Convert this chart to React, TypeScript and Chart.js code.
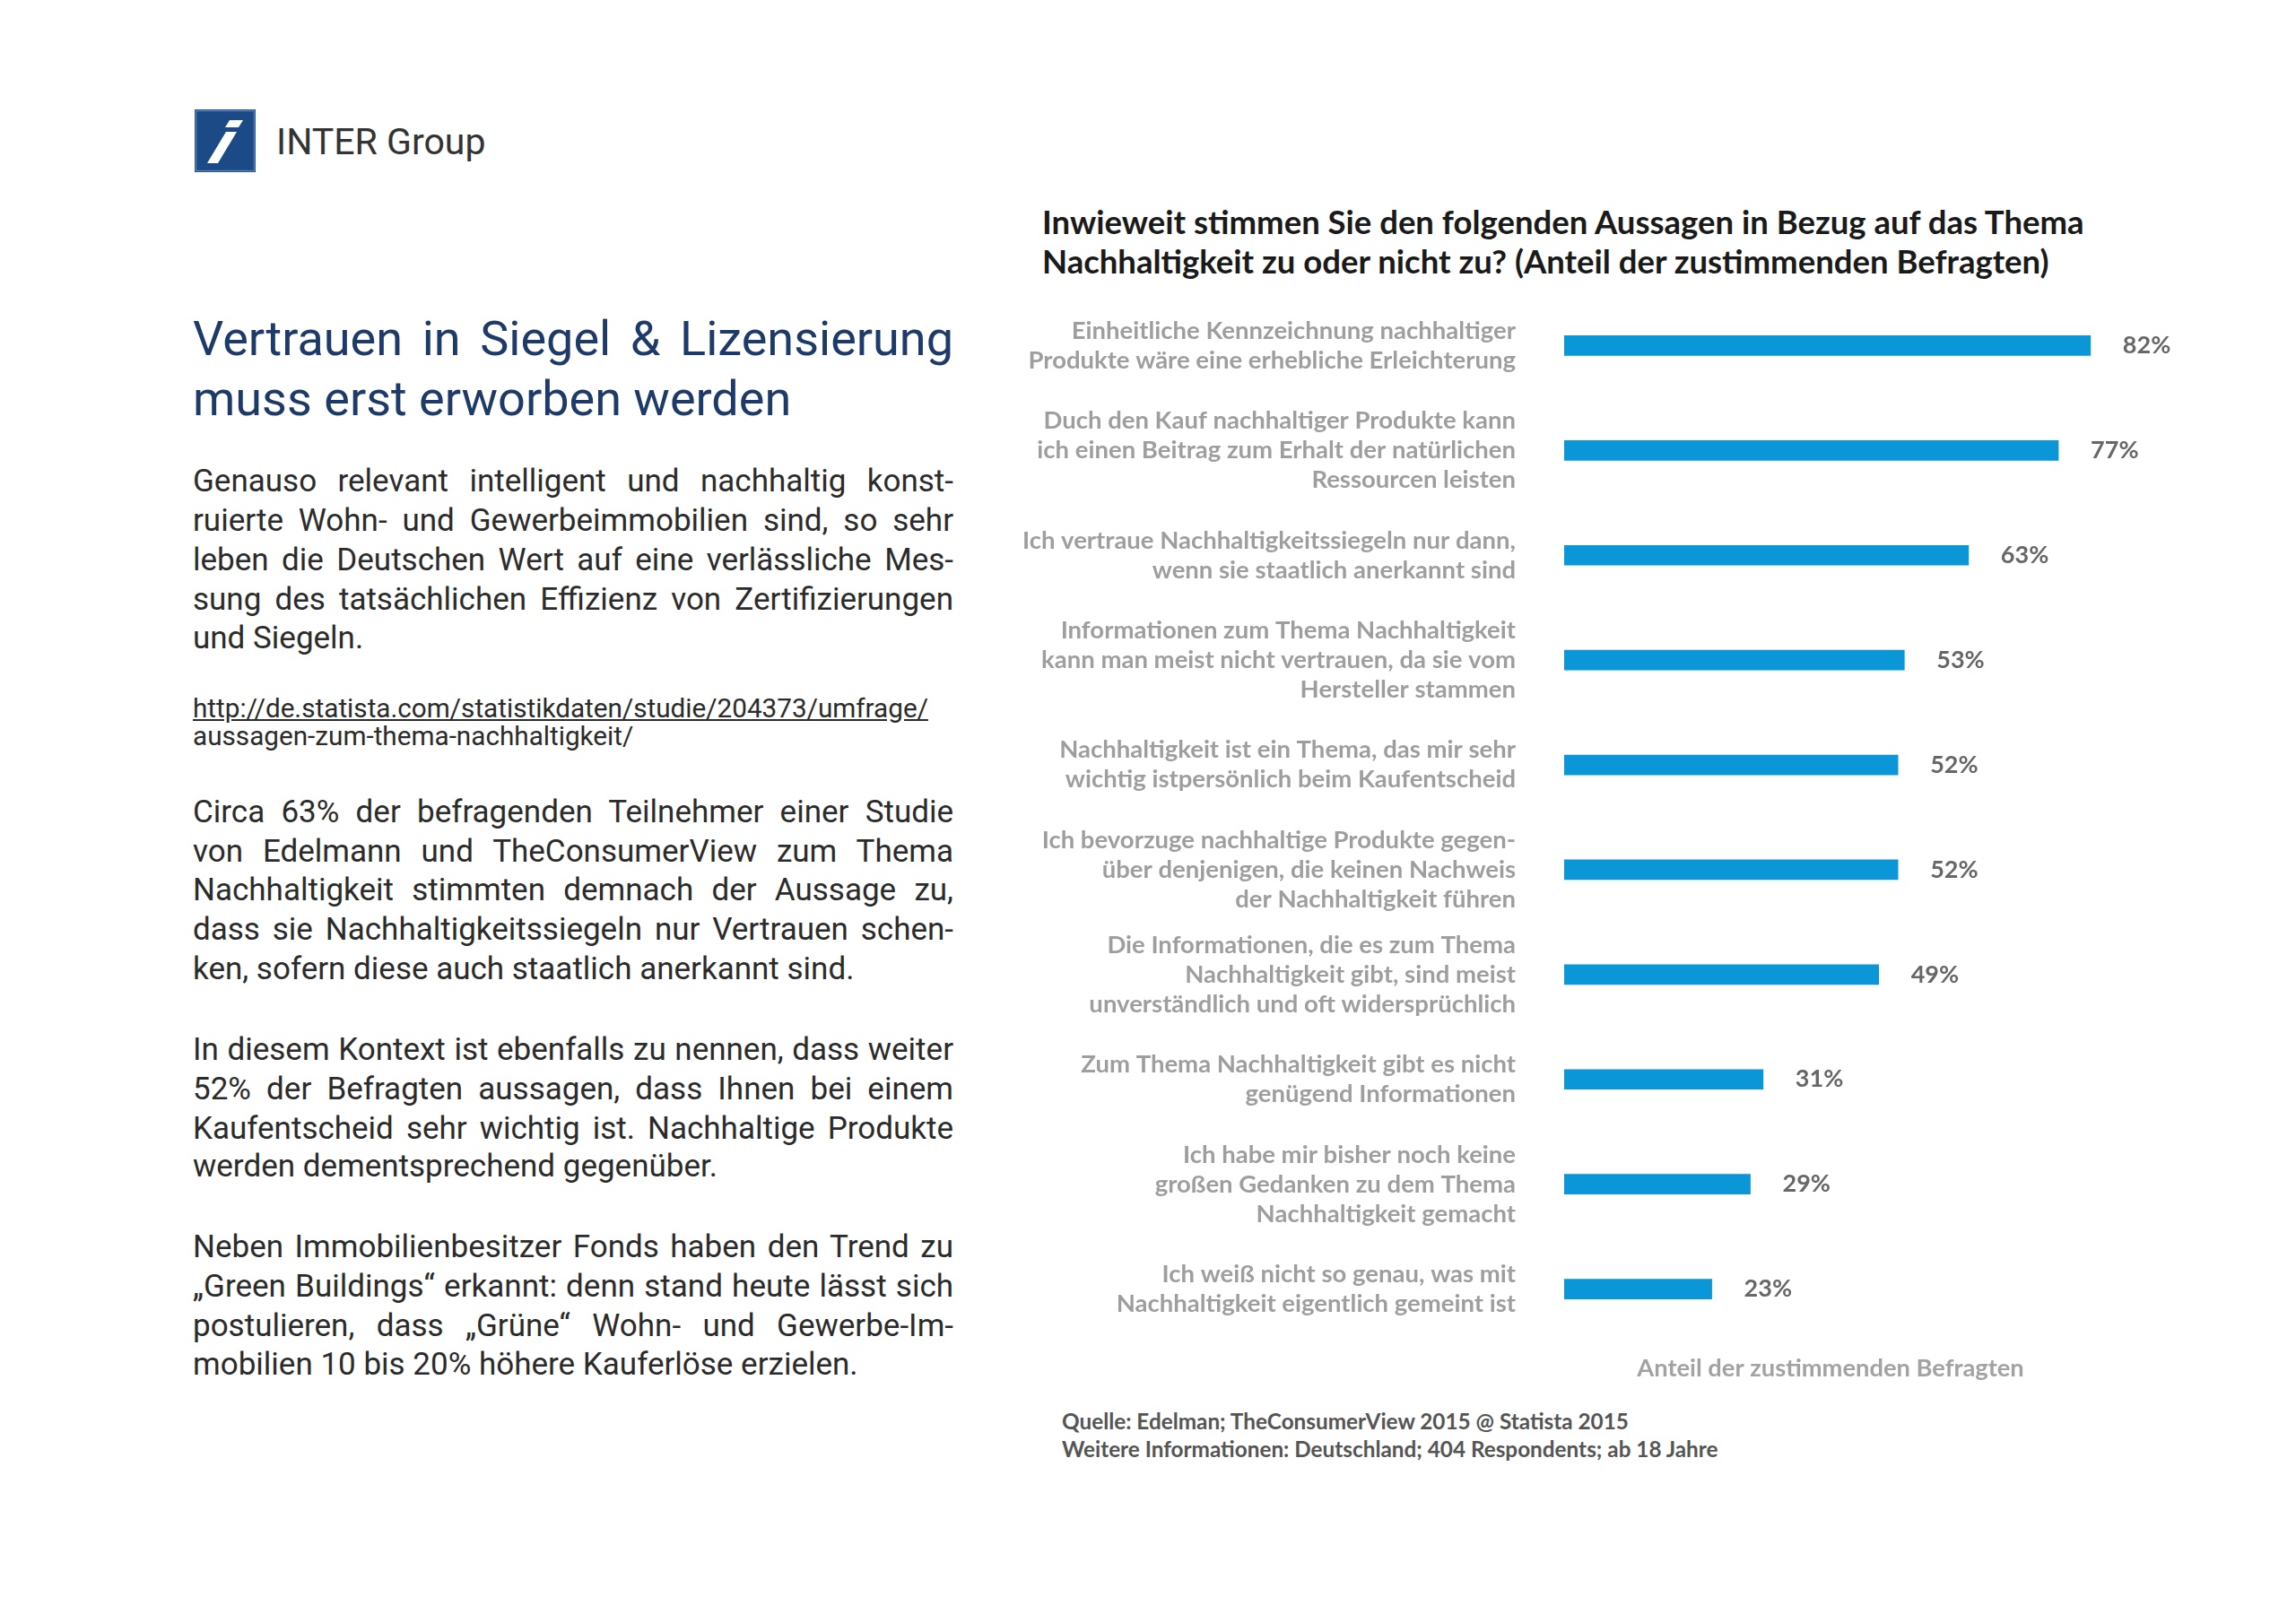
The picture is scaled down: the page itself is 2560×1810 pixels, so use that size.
import React, { useEffect, useRef } from "react";
import { Chart, registerables } from "chart.js";

Chart.register(...registerables);

// ---------- chart data ----------
const categories: string[][] = [
  ["Einheitliche Kennzeichnung nachhaltiger", "Produkte wäre eine erhebliche Erleichterung"],
  ["Duch den Kauf nachhaltiger Produkte kann", "ich einen Beitrag zum Erhalt der natürlichen", "Ressourcen leisten"],
  ["Ich vertraue Nachhaltigkeitssiegeln nur dann,", "wenn sie staatlich anerkannt sind"],
  ["Informationen zum Thema Nachhaltigkeit", "kann man meist nicht vertrauen, da sie vom", "Hersteller stammen"],
  ["Nachhaltigkeit ist ein Thema, das mir sehr", "wichtig istpersönlich beim Kaufentscheid"],
  ["Ich bevorzuge nachhaltige Produkte gegen-", "über denjenigen, die keinen Nachweis", "der Nachhaltigkeit führen"],
  ["Die Informationen, die es zum Thema", "Nachhaltigkeit gibt, sind meist", "unverständlich und oft widersprüchlich"],
  ["Zum Thema Nachhaltigkeit gibt es nicht", "genügend Informationen"],
  ["Ich habe mir bisher noch keine", "großen Gedanken zu dem Thema", "Nachhaltigkeit gemacht"],
  ["Ich weiß nicht so genau, was mit", "Nachhaltigkeit eigentlich gemeint ist"],
];
const values: number[] = [82, 77, 63, 53, 52, 52, 49, 31, 29, 23];
const xMin = 0;
const xMax = 83;
const chartTitle: string[] = [
  "Inwieweit stimmen Sie den folgenden Aussagen in Bezug auf das Thema",
  "Nachhaltigkeit zu oder nicht zu? (Anteil der zustimmenden Befragten)",
];
const axisTitle = "Anteil der zustimmenden Befragten";
const sourceLines: string[] = [
  "Quelle: Edelman; TheConsumerView 2015 @ Statista 2015",
  "Weitere Informationen: Deutschland; 404 Respondents; ab 18 Jahre",
];

// ---------- page text ----------
const brand = "INTER Group";
const headingLines: string[] = ["Vertrauen in Siegel & Lizensierung", "muss erst erworben werden"];
const para1: string[] = [
  "Genauso relevant intelligent und nachhaltig konst-",
  "ruierte Wohn- und Gewerbeimmobilien sind, so sehr",
  "leben die Deutschen Wert auf eine verlässliche Mes-",
  "sung des tatsächlichen Effizienz von Zertifizierungen",
  "und Siegeln.",
];
const urlLines: string[] = [
  "http://de.statista.com/statistikdaten/studie/204373/umfrage/",
  "aussagen-zum-thema-nachhaltigkeit/",
];
const para2: string[] = [
  "Circa 63% der befragenden Teilnehmer einer Studie",
  "von Edelmann und TheConsumerView zum Thema",
  "Nachhaltigkeit stimmten demnach der Aussage zu,",
  "dass sie Nachhaltigkeitssiegeln nur Vertrauen schen-",
  "ken, sofern diese auch staatlich anerkannt sind.",
];
const para3: string[] = [
  "In diesem Kontext ist ebenfalls zu nennen, dass weiter",
  "52% der Befragten aussagen, dass Ihnen bei einem",
  "Kaufentscheid sehr wichtig ist. Nachhaltige Produkte",
  "werden dementsprechend gegenüber.",
];
const para4: string[] = [
  "Neben Immobilienbesitzer Fonds haben den Trend zu",
  "„Green Buildings“ erkannt: denn stand heute lässt sich",
  "postulieren, dass „Grüne“ Wohn- und Gewerbe-Im-",
  "mobilien 10 bis 20% höhere Kauferlöse erzielen.",
];

const BAR_COLOR = "#0b96d8";

function BarChart() {
  const ref = useRef<HTMLCanvasElement | null>(null);
  useEffect(() => {
    if (!ref.current) return;
    const valueLabels = {
      id: "valueLabels",
      afterDatasetsDraw(chart: any) {
        const { ctx } = chart;
        const meta = chart.getDatasetMeta(0);
        ctx.save();
        ctx.font = "bold 27px Lato";
        ctx.fillStyle = "#676767";
        ctx.textAlign = "left";
        ctx.textBaseline = "middle";
        meta.data.forEach((bar: any, i: number) => {
          ctx.fillText(values[i] + "%", bar.x + 36, bar.y);
        });
        ctx.restore();
      },
    };
    const chart = new Chart(ref.current, {
      type: "bar",
      data: {
        labels: categories as any,
        datasets: [
          {
            data: values,
            backgroundColor: BAR_COLOR,
            borderWidth: 0,
            barThickness: 22,
          },
        ],
      },
      options: {
        indexAxis: "y",
        responsive: false,
        animation: false,
        devicePixelRatio: 1,
        layout: { padding: { left: 0, right: 162, top: 27, bottom: 0 } },
        plugins: {
          legend: { display: false },
          tooltip: { enabled: false },
          title: { display: false },
        },
        scales: {
          x: {
            min: xMin,
            max: xMax,
            grid: { display: false, drawTicks: false },
            border: { display: false },
            ticks: { display: false },
            title: {
              display: true,
              text: axisTitle,
              color: "#a2a2a2",
              font: { family: "Lato", weight: "bold", size: 27.3, lineHeight: "30px" as any },
              padding: { top: 15, bottom: 0 },
            },
          },
          y: {
            grid: { display: false, drawTicks: false },
            border: { display: false },
            ticks: {
              autoSkip: false,
              padding: 54,
              color: "#9e9e9e",
              font: { family: "Lato", weight: "bold", size: 27.5, lineHeight: "33px" as any },
            },
            afterFit: (scale: any) => {
              scale.width = 644;
              scale.paddingTop = 0;
              scale.paddingBottom = 0;
            },
          },
        },
      },
      plugins: [valueLabels],
    });
    return () => chart.destroy();
  }, []);
  return (
    <canvas
      ref={ref}
      width={1400}
      height={1241}
      style={{ position: "absolute", left: 1100, top: 300, width: 1400, height: 1241 }}
    />
  );
}

function Line({ text, center, justify, size = 35, lh = 44, color = "#2b2b2b", left = 215, width = 848, underline = false, family = "Roboto", weight = 400 }: any) {
  return (
    <div
      style={{
        position: "absolute",
        left,
        top: center - lh / 2,
        width,
        height: lh,
        lineHeight: lh + "px",
        fontSize: size,
        fontFamily: family,
        fontWeight: weight,
        color,
        whiteSpace: "nowrap",
        textAlign: justify ? "justify" : "left",
        textAlignLast: justify ? "justify" : "left",
        textDecoration: underline ? "underline" : "none",
      } as any}
    >
      {text}
    </div>
  );
}

function Paragraph({ lines, centers }: { lines: string[]; centers: number[] }) {
  return (
    <>
      {lines.map((t, i) => (
        <Line key={i} text={t} center={centers[i]} justify={i < lines.length - 1} />
      ))}
    </>
  );
}

export default function App() {
  return (
    <div
      style={{
        position: "absolute",
        left: 0,
        top: 0,
        width: 2560,
        height: 1810,
        background: "#ffffff",
        overflow: "hidden",
      }}
    >
      {/* logo */}
      <svg
        width={68}
        height={70}
        viewBox="0 0 68 70"
        style={{ position: "absolute", left: 217, top: 122 }}
      >
        <rect x={0} y={0} width={68} height={70} fill="#1b4a86" />
        <rect x={1.5} y={1.5} width={65} height={67} fill="none" stroke="#5a7fb3" strokeWidth={1.5} />
        <polygon points="39,12 54,12 49,20 34,20" fill="#ffffff" />
        <polygon points="35,25 47,25 26,60 14,60" fill="#ffffff" />
      </svg>
      <div
        style={{
          position: "absolute",
          left: 308,
          top: 158 - 25,
          height: 50,
          lineHeight: "50px",
          fontSize: 41,
          fontFamily: "Roboto",
          fontWeight: 400,
          color: "#333333",
          whiteSpace: "nowrap",
        }}
      >
        {brand}
      </div>

      {/* heading */}
      <Line text={headingLines[0]} center={377} justify size={54} lh={67} color="#1d3a69" />
      <Line text={headingLines[1]} center={444} size={54} lh={67} color="#1d3a69" />

      <Paragraph lines={para1} centers={[537, 581, 625, 669, 712]} />
      <Line text={urlLines[0]} center={789} size={29.7} lh={31} underline />
      <Line text={urlLines[1]} center={820} size={29.7} lh={31} />
      <Paragraph lines={para2} centers={[906, 950, 993, 1037, 1081]} />
      <Paragraph lines={para3} centers={[1171, 1215, 1259, 1301]} />
      <Paragraph lines={para4} centers={[1391, 1435, 1479, 1522]} />

      {/* chart title */}
      {chartTitle.map((t, i) => (
        <Line
          key={"t" + i}
          text={t}
          center={247 + i * 44}
          size={36.5}
          lh={44}
          left={1162}
          width={1300}
          color="#1a1a1a"
          family="Lato"
          weight={700}
          justify={false}
        />
      ))}

      <BarChart />

      {sourceLines.map((t, i) => (
        <Line
          key={i}
          text={t}
          center={1584 + i * 31}
          size={24.3}
          lh={31}
          left={1184}
          width={900}
          color="#555555"
          family="Lato"
          weight={700}
          justify={false}
        />
      ))}
    </div>
  );
}
